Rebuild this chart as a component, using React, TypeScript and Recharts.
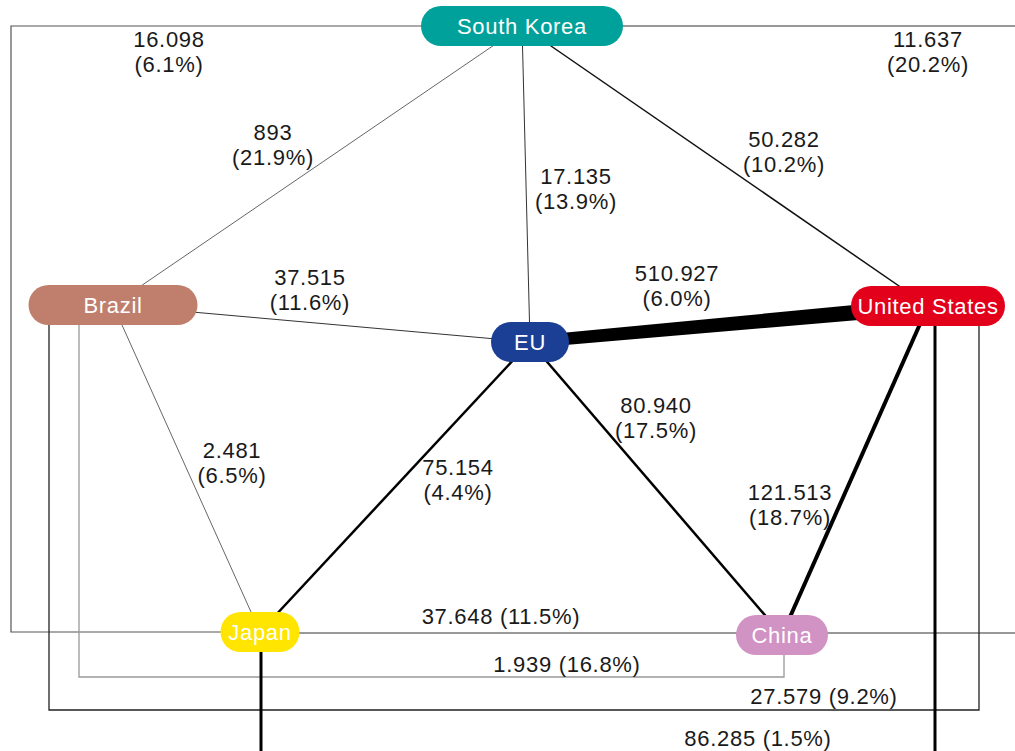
import React from 'react';
import { ScatterChart, Scatter, XAxis, YAxis } from 'recharts';

const W = 1015;
const H = 751;
const FONT = '"Liberation Sans", Arial, sans-serif';

// Countries, placed on the diagram's own grid (0..1015 x 0..751)
const NODES = [
  { id: 'KOR', name: 'South Korea', x: 522, y: 26 },
  { id: 'BRA', name: 'Brazil', x: 113, y: 305 },
  { id: 'EU', name: 'EU', x: 530, y: 342 },
  { id: 'USA', name: 'United States', x: 928, y: 306 },
  { id: 'JPN', name: 'Japan', x: 260, y: 632 },
  { id: 'CHN', name: 'China', x: 782, y: 635 },
];

// Bilateral flows: volume and share
const FLOWS = [
  { from: 'KOR', to: 'JPN', value: 16098, share: 6.1 },
  { from: 'KOR', to: 'BRA', value: 893, share: 21.9 },
  { from: 'KOR', to: 'EU', value: 17135, share: 13.9 },
  { from: 'KOR', to: 'USA', value: 50282, share: 10.2 },
  { from: 'KOR', to: 'CHN', value: 11637, share: 20.2 },
  { from: 'BRA', to: 'EU', value: 37515, share: 11.6 },
  { from: 'BRA', to: 'JPN', value: 2481, share: 6.5 },
  { from: 'BRA', to: 'CHN', value: 1939, share: 16.8 },
  { from: 'BRA', to: 'USA', value: 27579, share: 9.2 },
  { from: 'EU', to: 'USA', value: 510927, share: 6.0 },
  { from: 'EU', to: 'JPN', value: 75154, share: 4.4 },
  { from: 'EU', to: 'CHN', value: 80940, share: 17.5 },
  { from: 'USA', to: 'CHN', value: 121513, share: 18.7 },
  { from: 'JPN', to: 'CHN', value: 37648, share: 11.5 },
  { from: 'JPN', to: 'USA', value: 86285, share: 1.5 },
];

// where each flow's label sits (same order as FLOWS)
const LABEL_AT = [
  { x: 169, y: 52, inline: false },
  { x: 273, y: 145, inline: false },
  { x: 576, y: 189, inline: false },
  { x: 784, y: 152, inline: false },
  { x: 928, y: 52, inline: false },
  { x: 310, y: 290, inline: false },
  { x: 232, y: 463, inline: false },
  { x: 567, y: 664, inline: true },
  { x: 824, y: 696, inline: true },
  { x: 677, y: 286, inline: false },
  { x: 458, y: 480, inline: false },
  { x: 656, y: 418, inline: false },
  { x: 790, y: 505, inline: false },
  { x: 501, y: 616, inline: true },
  { x: 758, y: 738, inline: true },
];

// flows drawn as box routes around the pentagon
const ROUTES: Record<string, { x: number; y: number }[]> = {
  'KOR-JPN': [{ x: 522, y: 26 }, { x: 11, y: 26 }, { x: 11, y: 632 }, { x: 260, y: 632 }],
  'KOR-CHN': [{ x: 522, y: 26 }, { x: 1040, y: 26 }, { x: 1040, y: 633 }, { x: 782, y: 633 }],
  'BRA-CHN': [{ x: 79, y: 305 }, { x: 79, y: 677 }, { x: 784, y: 677 }, { x: 784, y: 635 }],
  'BRA-USA': [{ x: 49, y: 305 }, { x: 49, y: 710 }, { x: 979, y: 710 }, { x: 979, y: 306 }],
  'JPN-CHN': [{ x: 260, y: 633 }, { x: 782, y: 633 }],
  'JPN-USA': [{ x: 261, y: 632 }, { x: 261, y: 790 }, { x: 935, y: 790 }, { x: 935, y: 306 }],
};

const NODE_STYLE: Record<string, { fill: string; w: number }> = {
  KOR: { fill: '#00A19A', w: 202 },
  BRA: { fill: '#C07F6D', w: 169 },
  EU: { fill: '#1B3F94', w: 78 },
  USA: { fill: '#E2001A', w: 154 },
  JPN: { fill: '#FFE500', w: 79 },
  CHN: { fill: '#D093C4', w: 92 },
};

const EDGE_STYLE: Record<string, { stroke: string; width: number }> = {
  'KOR-JPN': { stroke: '#555', width: 1.2 },
  'KOR-BRA': { stroke: '#555', width: 0.9 },
  'KOR-EU': { stroke: '#333', width: 1 },
  'KOR-USA': { stroke: '#111', width: 1.5 },
  'KOR-CHN': { stroke: '#333', width: 1.2 },
  'BRA-EU': { stroke: '#333', width: 1 },
  'BRA-JPN': { stroke: '#555', width: 0.9 },
  'BRA-CHN': { stroke: '#999', width: 1.3 },
  'BRA-USA': { stroke: '#222', width: 1.3 },
  'EU-USA': { stroke: '#000', width: 13 },
  'EU-JPN': { stroke: '#000', width: 2.5 },
  'EU-CHN': { stroke: '#000', width: 2.5 },
  'USA-CHN': { stroke: '#000', width: 4 },
  'JPN-CHN': { stroke: '#777', width: 1.3 },
  'JPN-USA': { stroke: '#000', width: 3 },
};

const nodeById = (id: string) => NODES.find((n) => n.id === id)!;

const fmtValue = (v: number) => String(v).replace(/\B(?=(\d{3})+(?!\d))/g, '.');
const fmtShare = (s: number) => `(${s.toFixed(1)}%)`;

const labelData = FLOWS.map((f, i) => ({
  ...LABEL_AT[i],
  value: fmtValue(f.value),
  share: fmtShare(f.share),
}));

const Empty = () => <g />;

// EU-US flow is drawn as a wedge that widens toward the US
const Wedge = (props: any) => {
  const pts = props.points;
  if (!pts || pts.length < 2) return <g />;
  const [a, b] = pts;
  const dx = b.x - a.x;
  const dy = b.y - a.y;
  const len = Math.hypot(dx, dy) || 1;
  const nx = -dy / len;
  const ny = dx / len;
  const w1 = 6;
  const w2 = 8;
  const d = [
    [a.x + nx * w1, a.y + ny * w1],
    [b.x + nx * w2, b.y + ny * w2],
    [b.x - nx * w2, b.y - ny * w2],
    [a.x - nx * w1, a.y - ny * w1],
  ]
    .map((p) => p.join(','))
    .join(' ');
  return <polygon points={d} fill="#000" />;
};

const NodePill = (props: any) => {
  const { cx, cy, payload } = props;
  const st = NODE_STYLE[payload.id];
  const h = 40;
  return (
    <g>
      <rect x={cx - st.w / 2} y={cy - h / 2} width={st.w} height={h} rx={20} ry={20} fill={st.fill} />
      <text
        x={cx}
        y={cy}
        dy="0.36em"
        textAnchor="middle"
        fill="#fff"
        fontFamily={FONT}
        fontSize={22}
        letterSpacing={0.7}
      >
        {payload.name}
      </text>
    </g>
  );
};

const FlowLabel = (props: any) => {
  const { cx, cy, payload } = props;
  const common = {
    textAnchor: 'middle' as const,
    fill: '#1a1a1a',
    fontFamily: FONT,
    fontSize: 22,
    letterSpacing: 0.7,
  };
  if (payload.inline) {
    return (
      <text x={cx} y={cy} dy="0.36em" {...common}>
        {`${payload.value} ${payload.share}`}
      </text>
    );
  }
  return (
    <text x={cx} y={cy} {...common}>
      <tspan x={cx} dy="-0.22em">{payload.value}</tspan>
      <tspan x={cx} dy="1.14em">{payload.share}</tspan>
    </text>
  );
};

export default function App() {
  return (
    <div
      style={{
        position: 'absolute',
        left: 0,
        top: 0,
        width: W,
        height: H,
        overflow: 'hidden',
        background: '#fff',
      }}
    >
      <ScatterChart width={W} height={H} margin={{ top: 0, right: 0, bottom: 0, left: 0 }}>
        <XAxis type="number" dataKey="x" domain={[0, W]} hide allowDataOverflow />
        <YAxis type="number" dataKey="y" domain={[0, H]} reversed hide allowDataOverflow />

        {FLOWS.map((f) => {
          const key = `${f.from}-${f.to}`;
          const st = EDGE_STYLE[key];
          const pts = ROUTES[key] ?? [nodeById(f.from), nodeById(f.to)].map((n) => ({ x: n.x, y: n.y }));
          if (key === 'EU-USA') {
            return (
              <Scatter
                key={key}
                data={pts}
                line={Wedge}
                shape={Empty}
                isAnimationActive={false}
              />
            );
          }
          return (
            <Scatter
              key={key}
              data={pts}
              line={{ stroke: st.stroke, strokeWidth: st.width }}
              shape={Empty}
              fill={st.stroke}
              isAnimationActive={false}
            />
          );
        })}

        <Scatter data={labelData} shape={FlowLabel} isAnimationActive={false} />
        <Scatter data={NODES} shape={NodePill} isAnimationActive={false} />
      </ScatterChart>
    </div>
  );
}
